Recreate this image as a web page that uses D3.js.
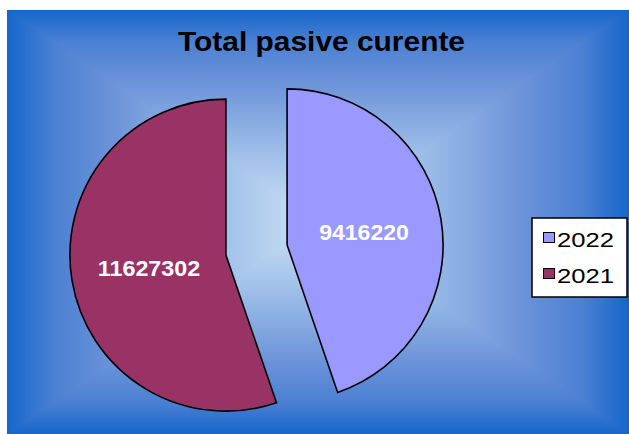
<!DOCTYPE html>
<html><head><meta charset="utf-8">
<script src="https://cdn.jsdelivr.net/npm/d3@7"></script>
<style>html,body{margin:0;padding:0;background:#fff;}svg{display:block;}</style>
</head><body>
<script>
const categories = ["2022", "2021"];
const values = [9416220, 11627302];
const colors = ["#9999FF", "#993366"];
const titleText = "Total pasive curente";

const W = 629, H = 434;
const svg = d3.select("body").append("svg").attr("width", W).attr("height", H);
const defs = svg.append("defs");

// background: rectangular "from center" gradient
const bx0 = 7, by0 = 10, bx1 = 629, by1 = 434;
const cx = (bx0 + bx1) / 2, cy = (by0 + by1) / 2;
const stops = [[0, "#cde1f4"], [0.3, "#a2c2ea"], [0.65, "#6d94d9"], [0.85, "#4b80d3"], [1, "#1566ca"]];
function grad(id, x1, y1, x2, y2, spread) {
  const g = defs.append("linearGradient").attr("id", id).attr("gradientUnits", "userSpaceOnUse")
    .attr("x1", x1).attr("y1", y1).attr("x2", x2).attr("y2", y2).attr("spreadMethod", spread || "pad");
  stops.forEach(st => g.append("stop").attr("offset", st[0]).attr("stop-color", st[1]));
}
grad("gT", cx, cy, cx, by0, "reflect");
grad("gL", cx, cy, bx0, cy);
grad("gR", cx, cy, bx1, cy);
// base: vertical gradient (top/bottom, reflected around centre)
svg.append("rect").attr("x", bx0).attr("y", by0).attr("width", bx1 - bx0).attr("height", by1 - by0)
  .attr("fill", "url(#gT)");
// left and right triangles with horizontal gradient
svg.append("polygon").attr("points", [[bx0, by0], [bx0, by1], [cx, cy]].map(p => p.join(",")).join(" "))
  .attr("fill", "url(#gL)");
svg.append("polygon").attr("points", [[bx1, by0], [bx1, by1], [cx, cy]].map(p => p.join(",")).join(" "))
  .attr("fill", "url(#gR)");

// title
svg.append("text").attr("x", 321.5).attr("y", 51).attr("text-anchor", "middle")
  .attr("font-family", "Liberation Sans, Arial, sans-serif").attr("font-weight", "bold")
  .attr("font-size", 28).attr("textLength", 287).attr("lengthAdjust", "spacingAndGlyphs")
  .attr("fill", "#000").text(titleText);

// pie
const pcx = 256.5, pcy = 250, R = 156, explode = 31;
const pie = d3.pie().sort(null).value(d => d)(values);
const arc = d3.arc().innerRadius(0).outerRadius(R);
const gPie = svg.append("g").attr("transform", `translate(${pcx},${pcy})`);
pie.forEach((p, i) => {
  const mid = (p.startAngle + p.endAngle) / 2;
  const dx = explode * Math.sin(mid), dy = -explode * Math.cos(mid);
  const g = gPie.append("g").attr("transform", `translate(${dx},${dy})`);
  g.append("path").attr("d", arc(p)).attr("fill", colors[i])
    .attr("stroke", "#000").attr("stroke-width", 1.6).attr("stroke-linejoin", "miter");
  const c = arc.centroid(p);
  const len = String(values[i]).length * 12.8;
  g.append("text").attr("x", c[0]).attr("y", c[1]).attr("dy", "0.36em")
    .attr("text-anchor", "middle").attr("font-family", "Liberation Sans, Arial, sans-serif")
    .attr("font-weight", "bold").attr("font-size", 21.5).attr("fill", "#fff")
    .attr("textLength", len).attr("lengthAdjust", "spacingAndGlyphs")
    .text(values[i]);
});

// legend
const lg = svg.append("g");
lg.append("rect").attr("x", 532).attr("y", 218).attr("width", 95).attr("height", 79)
  .attr("fill", "#fff").attr("stroke", "#000").attr("stroke-width", 1.5);
categories.forEach((c, i) => {
  const y0 = 232 + i * 36;
  lg.append("rect").attr("x", 543.5).attr("y", y0 + 0.5).attr("width", 11).attr("height", 10)
    .attr("fill", colors[i]).attr("stroke", "#000").attr("stroke-width", 1);
  lg.append("text").attr("x", 557).attr("y", y0 + 15)
    .attr("font-family", "Liberation Sans, Arial, sans-serif").attr("font-size", 19.5)
    .attr("textLength", 57).attr("lengthAdjust", "spacingAndGlyphs").attr("fill", "#000").text(c);
});
</script>
</body></html>
